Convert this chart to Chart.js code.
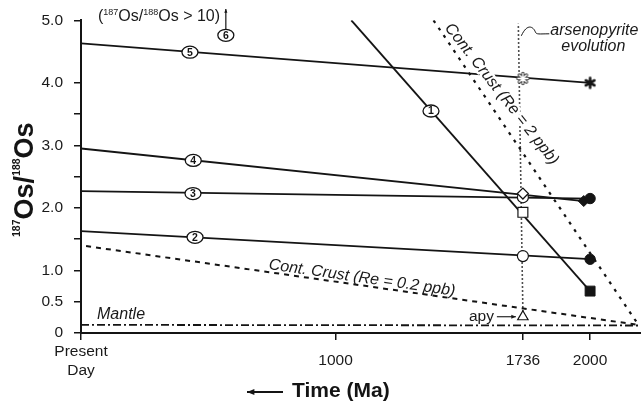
<!DOCTYPE html>
<html>
<head>
<meta charset="utf-8">
<script src="https://cdn.jsdelivr.net/npm/chart.js@4.4.0/dist/chart.umd.min.js"></script>
<style>
  html, body { margin: 0; padding: 0; background: #fff; }
</style>
</head>
<body>
<canvas id="osChart" width="641" height="408"></canvas>
<script>
// axis ticks
const xTicks = [0, 1000, 1736, 2000];
const xTickLabels = [['Present', 'Day'], ['1000'], ['1736'], ['2000']];
const yTicks = [0, 0.5, 1, 1.5, 2, 2.5, 3, 3.5, 4, 5];
const yTickLabels = ['0', '0.5', '1.0', '', '2.0', '', '3.0', '', '4.0', '5.0'];

// Os evolution lines as [age (Ma), 187Os/188Os]
const line1 = [[1062, 5.0], [2000, 0.67]];
const line2 = [[0, 1.63], [2000, 1.18]];
const line3 = [[0, 2.27], [2000, 2.15]];
const line4 = [[0, 2.95], [1975, 2.11]];
const line5 = [[0, 4.63], [2000, 4.0]];
const crustHighRe = [[1385, 5.0], [2190, 0.13]];
const crustLowRe = [[20, 1.39], [2190, 0.13]];
const mantle = [[0, 0.13], [2200, 0.12]];
const apyTrack = [[1736, 0.34], [1718, 4.95]];

// samples: 1736 Ma (open symbols) and 2000 Ma (filled symbols)
const openPts = [[1736, 4.07], [1736, 2.17], [1736, 2.23], [1736, 1.93], [1736, 1.23], [1736, 0.26]];
const filledPts = [[2000, 4.0], [1975, 2.11], [2000, 2.15], [2000, 1.18], [2000, 0.67]];

// circled curve numbers, placed on their lines
const curveTags = ['1', '2', '3', '4', '5', '6'];
const curveTagPos = [[1375, 3.55], [448, 1.53], [440, 2.23], [441, 2.76], [428, 4.49], [569, 4.76]];

const ink = '#141414';
const font = "'Liberation Sans', Arial, Helvetica, sans-serif";
const P = arr => arr.map(([x, y]) => ({ x, y }));

function starImage(open) {
  const s = 15, c = document.createElement('canvas');
  c.width = c.height = s;
  const g = c.getContext('2d');
  g.lineCap = 'round';
  const arms = open ? 8 : 6, r = 5;
  const stroke = (w, col) => {
    g.strokeStyle = col; g.lineWidth = w; g.beginPath();
    for (let i = 0; i < arms; i++) {
      const a = i * 2 * Math.PI / arms - Math.PI / 2;
      g.moveTo(s / 2, s / 2);
      g.lineTo(s / 2 + r * Math.cos(a), s / 2 + r * Math.sin(a));
    }
    g.stroke();
  };
  if (open) { stroke(3.4, '#444'); stroke(1.4, '#fff'); } else stroke(2.6, ink);
  return c;
}

function lineSet(pts, extra) {
  return Object.assign({
    data: P(pts), showLine: true, borderColor: ink, borderWidth: 1.8,
    pointRadius: 0, pointHoverRadius: 0, order: 2
  }, extra);
}

function haloText(ctx, text, cx, cy, angle, f, halo) {
  ctx.save();
  ctx.translate(cx, cy);
  ctx.rotate(angle);
  ctx.font = f;
  ctx.textAlign = 'center';
  ctx.textBaseline = 'middle';
  if (halo) {
    ctx.strokeStyle = '#fff'; ctx.lineWidth = 5; ctx.lineJoin = 'round';
    ctx.strokeText(text, 0, 0);
  }
  ctx.fillStyle = '#1a1a1a';
  ctx.fillText(text, 0, 0);
  ctx.restore();
}

function arrow(ctx, x0, y0, x1, y1, head) {
  const a = Math.atan2(y1 - y0, x1 - x0);
  ctx.beginPath();
  ctx.moveTo(x0, y0); ctx.lineTo(x1, y1);
  ctx.stroke();
  ctx.beginPath();
  ctx.moveTo(x1, y1);
  ctx.lineTo(x1 - head * Math.cos(a - 0.4), y1 - head * Math.sin(a - 0.4));
  ctx.lineTo(x1 - head * Math.cos(a + 0.4), y1 - head * Math.sin(a + 0.4));
  ctx.closePath();
  ctx.fill();
}

const annotate = {
  id: 'annotate',
  afterDatasetsDraw(chart) {
    const ctx = chart.ctx;
    const xs = chart.scales.x, ys = chart.scales.y;
    const px = t => xs.getPixelForValue(t), py = v => ys.getPixelForValue(v);
    const slope = seg => Math.atan2(py(seg[1][1]) - py(seg[0][1]), px(seg[1][0]) - px(seg[0][0]));
    ctx.save();

    // crust curve labels
    haloText(ctx, 'Cont. Crust (Re = 2 ppb)', px(1652), py(3.82), slope(crustHighRe) - 0.07,
      `italic 16px ${font}`, true);
    haloText(ctx, 'Cont. Crust (Re = 0.2 ppb)', px(1104), py(0.88), slope(crustLowRe),
      `italic 16px ${font}`, false);

    // circled curve numbers
    curveTags.forEach((tag, i) => {
      const cx = px(curveTagPos[i][0]), cy = py(curveTagPos[i][1]);
      ctx.beginPath();
      ctx.ellipse(cx, cy, 8, 6, 0, 0, 2 * Math.PI);
      ctx.fillStyle = '#fff'; ctx.fill();
      ctx.lineWidth = 1.3; ctx.strokeStyle = ink; ctx.stroke();
      ctx.fillStyle = ink;
      ctx.font = `bold 10.5px ${font}`;
      ctx.textAlign = 'center'; ctx.textBaseline = 'middle';
      ctx.fillText(tag, cx, cy + 0.5);
    });

    // curve 6 is off scale
    ctx.strokeStyle = ink; ctx.fillStyle = ink; ctx.lineWidth = 1.2;
    const c6x = px(curveTagPos[5][0]), c6y = py(curveTagPos[5][1]);
    arrow(ctx, c6x, c6y - 6, c6x, 9, 4);
    ctx.fillStyle = '#1a1a1a';
    ctx.textAlign = 'left'; ctx.textBaseline = 'alphabetic';
    let tx = 98;
    const base = 21;
    const parts = [['(', 16, 0], ['187', 9, -6], ['Os/', 16, 0], ['188', 9, -6], ['Os > 10)', 16, 0]];
    parts.forEach(([s, sz, dy]) => {
      ctx.font = `${sz}px ${font}`;
      ctx.fillText(s, tx, base + dy);
      tx += ctx.measureText(s).width;
    });

    // mantle label
    ctx.font = `italic 16px ${font}`;
    ctx.textAlign = 'left'; ctx.textBaseline = 'middle';
    ctx.fillText('Mantle', 97, py(0.29));

    // apy arrow to triangle
    const ax = px(1736), ay = py(0.26);
    ctx.font = `15.5px ${font}`;
    ctx.textAlign = 'right';
    ctx.fillText('apy', ax - 29, ay);
    ctx.lineWidth = 1.1;
    arrow(ctx, ax - 26, ay, ax - 7, ay, 5);

    // arsenopyrite evolution note, hooked to the top of the apy track
    const topX = px(apyTrack[1][0]), topY = py(4.8);
    ctx.lineWidth = 1;
    ctx.beginPath();
    ctx.moveTo(topX + 3, topY + 3);
    ctx.bezierCurveTo(topX + 9, topY - 10, topX + 15, topY - 6, topX + 17, topY - 1);
    ctx.bezierCurveTo(topX + 18, topY + 2, topX + 21, topY + 1, topX + 31, topY + 1);
    ctx.stroke();
    ctx.font = `italic 16px ${font}`;
    ctx.textAlign = 'left';
    ctx.fillText('arsenopyrite', topX + 32, topY - 2);
    ctx.textAlign = 'center';
    ctx.fillText('evolution', topX + 75, topY + 14);

    // x tick labels, single lines centred on the two-line one
    ctx.font = `15.5px ${font}`;
    ctx.textAlign = 'center'; ctx.textBaseline = 'middle';
    const axisY = ys.bottom;
    xTicks.forEach((t, i) => {
      const lines = xTickLabels[i];
      const mid = axisY + 28;
      lines.forEach((s, j) => {
        ctx.fillText(s, px(t), mid + (j - (lines.length - 1) / 2) * 19.5);
      });
    });

    // x axis title with arrow
    ctx.lineWidth = 2.2;
    ctx.strokeStyle = ink; ctx.fillStyle = ink;
    arrow(ctx, 283, 392, 247, 392, 8);
    ctx.font = `bold 21px ${font}`;
    ctx.textAlign = 'left';
    ctx.fillText('Time (Ma)', 292, 391);

    // y axis title, rotated
    ctx.save();
    ctx.translate(33, 237);
    ctx.rotate(-Math.PI / 2);
    ctx.textBaseline = 'alphabetic';
    ctx.textAlign = 'left';
    let yx = 0;
    [['187', 10.5, -13], ['Os/', 27, 0], ['188', 10.5, -13], ['Os', 27, 0]].forEach(([s, sz, dy]) => {
      ctx.font = `bold ${sz}px ${font}`;
      ctx.fillText(s, yx, dy);
      yx += ctx.measureText(s).width;
    });
    ctx.restore();

    ctx.restore();
  }
};

const axisStyle = {
  border: { display: true, color: ink, width: 2 },
  grid: { drawOnChartArea: false, drawTicks: true, tickLength: 7, color: ink, lineWidth: 1.5 }
};

new Chart(document.getElementById('osChart'), {
  type: 'scatter',
  data: {
    datasets: [
      {
        data: P(openPts), showLine: false, order: 0,
        pointStyle: [starImage(true), 'circle', 'rectRot', 'rect', 'circle', 'triangle'],
        pointRadius: [6, 5.5, 5.5, 7, 5.5, 6],
        pointBackgroundColor: '#fff', pointBorderColor: ink, pointBorderWidth: 1.2
      },
      {
        data: P(filledPts), showLine: false, order: 0,
        pointStyle: [starImage(false), 'rectRot', 'circle', 'circle', 'rect'],
        pointRadius: [6, 5.5, 5.2, 5.2, 7],
        pointBackgroundColor: ink, pointBorderColor: ink, pointBorderWidth: 1
      },
      lineSet(line1),
      lineSet(line2),
      lineSet(line3),
      lineSet(line4),
      lineSet(line5),
      lineSet(crustHighRe, { borderDash: [3, 6], borderWidth: 2.2, order: 3 }),
      lineSet(crustLowRe, { borderDash: [5, 5], borderWidth: 2, order: 3 }),
      lineSet(mantle, { borderDash: [8, 3, 2, 3], borderWidth: 1.8, order: 3 }),
      lineSet(apyTrack, { borderDash: [1.5, 2.5], borderWidth: 1.6, order: 3 })
    ]
  },
  options: {
    responsive: false,
    animation: false,
    devicePixelRatio: 1,
    layout: { autoPadding: false, padding: { top: 20, right: 0, bottom: 0, left: 0 } },
    plugins: { legend: { display: false }, tooltip: { enabled: false } },
    scales: {
      x: Object.assign({
        type: 'linear', min: 0, max: 2200,
        ticks: { display: false },
        afterBuildTicks: s => { s.ticks = xTicks.map(v => ({ value: v })); },
        afterFit: s => { s.height = 75; }
      }, axisStyle),
      y: Object.assign({
        type: 'linear', min: 0, max: 5,
        ticks: {
          padding: 11, color: '#1a1a1a', font: { family: font, size: 15.5 },
          callback: (v, i) => yTickLabels[i]
        },
        afterBuildTicks: s => { s.ticks = yTicks.map(v => ({ value: v })); },
        afterFit: s => { s.width = 81; }
      }, axisStyle)
    }
  },
  plugins: [annotate]
});
</script>
</body>
</html>
